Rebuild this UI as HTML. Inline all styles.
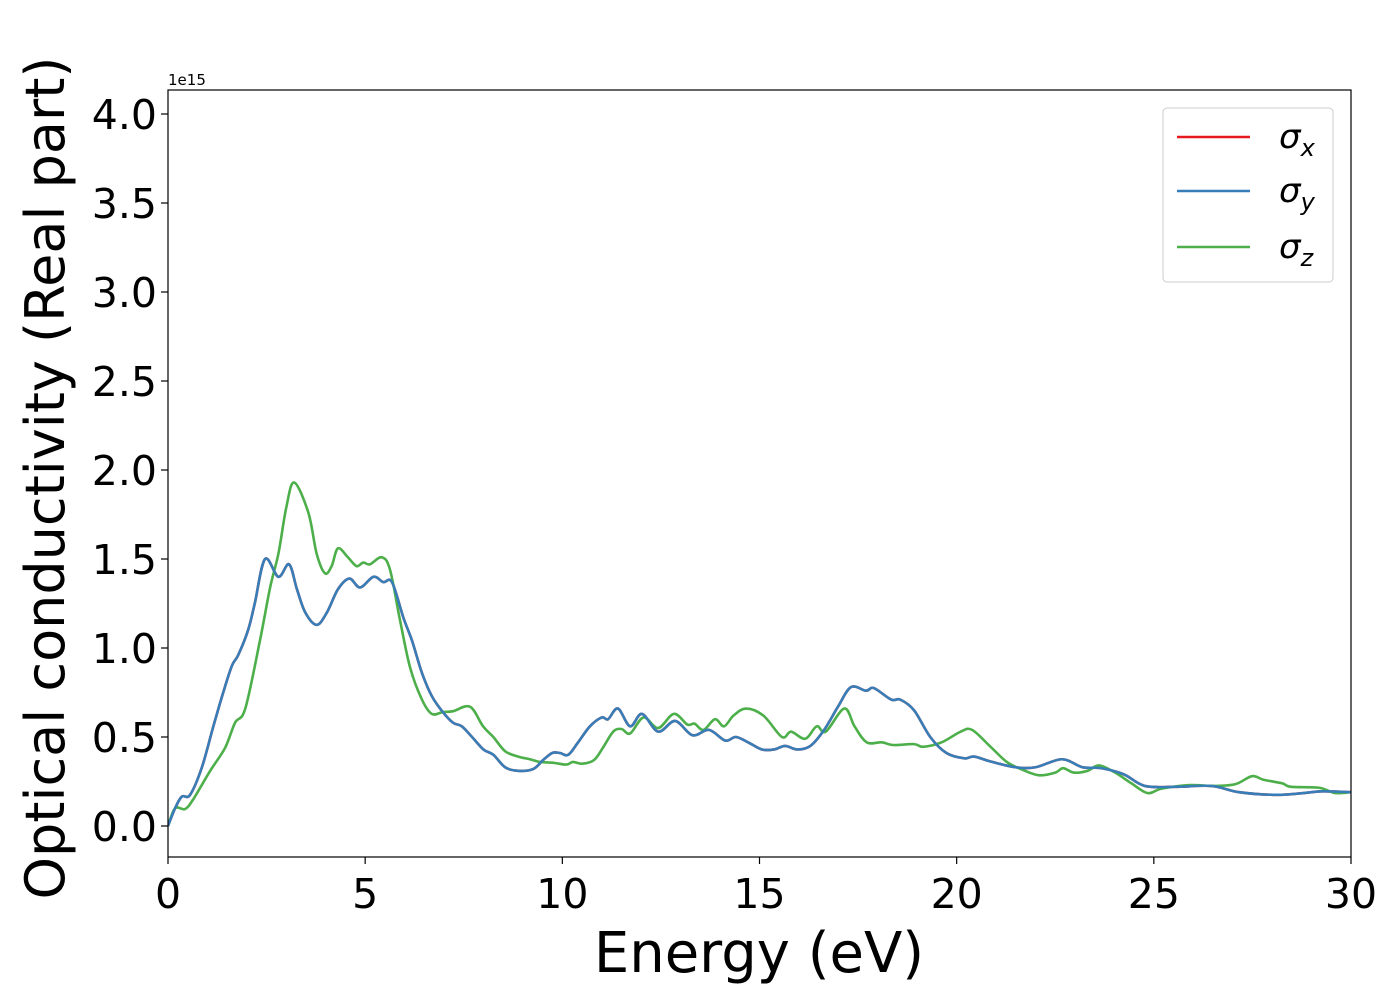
<!DOCTYPE html>
<html><head><meta charset="utf-8"><style>
html,body{margin:0;padding:0;background:#fff;}
svg{display:block;font-family:"DejaVu Sans","Liberation Sans",sans-serif;}
</style></head><body>
<svg id="chart" width="1400" height="1000" viewBox="0 0 1400 1000" xmlns="http://www.w3.org/2000/svg">
<rect width="1400" height="1000" fill="#fff"/>
<g id="plot"></g>
<rect x="168" y="90" width="1183" height="767" fill="none" stroke="#000" stroke-width="1.2"/>
<g id="xticks"></g>
<g id="yticks"></g>
<text x="168" y="85" font-size="15">1e15</text>
<text x="759" y="972" font-size="56" text-anchor="middle">Energy (eV)</text>
<text transform="translate(64,478) rotate(-90)" font-size="54" text-anchor="middle">Optical conductivity (Real part)</text>
<g>
<rect x="1163" y="108" width="170" height="174" rx="4" fill="#fff" stroke="#ccc" stroke-width="1"/>
<g><line x1="1177" y1="137" x2="1250" y2="137" stroke="#e41a1c" stroke-width="2.5"/><text x="1279" y="148" font-size="34" font-style="italic">σ<tspan font-size="24" dy="8">x</tspan></text></g>
<g><line x1="1177" y1="191" x2="1250" y2="191" stroke="#377eb8" stroke-width="2.5"/><text x="1279" y="202" font-size="34" font-style="italic">σ<tspan font-size="24" dy="8">y</tspan></text></g>
<g><line x1="1177" y1="247" x2="1250" y2="247" stroke="#4daf4a" stroke-width="2.5"/><text x="1279" y="258" font-size="34" font-style="italic">σ<tspan font-size="24" dy="8">z</tspan></text></g>
</g>
</svg>
<script>
const xyEnergy=[0,0.18,0.35,0.56,0.86,1.15,1.4,1.62,1.78,2.03,2.2,2.46,2.8,3.07,3.27,3.48,3.77,4.03,4.31,4.6,4.87,5.21,5.46,5.68,5.97,6.19,6.44,6.69,6.97,7.23,7.45,7.71,8.0,8.25,8.55,8.88,9.26,9.51,9.74,9.94,10.15,10.4,10.7,11.0,11.16,11.41,11.72,12.02,12.43,12.86,13.3,13.72,14.13,14.4,14.71,15.06,15.37,15.65,15.95,16.29,16.64,16.99,17.32,17.7,17.9,18.34,18.57,18.92,19.33,19.74,20.2,20.44,20.9,21.5,22.0,22.67,23.19,23.66,24.24,24.77,25.54,26.46,27.16,28.1,28.8,29.27,30];
const xyValues=[0,0.10,0.165,0.175,0.33,0.56,0.75,0.90,0.96,1.10,1.25,1.50,1.40,1.47,1.33,1.20,1.13,1.20,1.33,1.39,1.34,1.40,1.37,1.37,1.17,1.04,0.86,0.73,0.64,0.58,0.56,0.50,0.43,0.40,0.33,0.31,0.32,0.37,0.41,0.41,0.40,0.47,0.56,0.61,0.60,0.66,0.56,0.63,0.53,0.59,0.51,0.54,0.48,0.50,0.47,0.43,0.43,0.45,0.43,0.45,0.54,0.67,0.78,0.76,0.775,0.71,0.71,0.65,0.50,0.41,0.38,0.39,0.36,0.33,0.33,0.375,0.33,0.325,0.29,0.225,0.22,0.225,0.19,0.175,0.185,0.195,0.19];
const zEnergy=[0,0.18,0.43,0.64,1.07,1.45,1.70,1.96,2.33,2.59,2.8,3.0,3.2,3.56,3.77,3.98,4.15,4.31,4.56,4.78,4.95,5.12,5.42,5.63,5.88,6.14,6.44,6.69,6.97,7.23,7.66,7.99,8.25,8.55,8.88,9.18,9.43,9.77,10.1,10.27,10.5,10.8,11.03,11.29,11.5,11.72,12.06,12.43,12.83,13.17,13.35,13.58,13.87,14.1,14.34,14.66,15.1,15.57,15.8,16.16,16.45,16.68,17.15,17.41,17.72,18.1,18.39,18.92,19.15,19.62,20.1,20.39,20.86,21.27,21.68,22.09,22.5,22.7,22.97,23.32,23.61,24.02,24.43,24.84,25.2,25.9,26.55,27.07,27.49,27.78,28.25,28.48,29.19,29.6,30];
const zValues=[0,0.10,0.095,0.15,0.31,0.44,0.58,0.66,1.04,1.34,1.53,1.79,1.93,1.76,1.53,1.42,1.46,1.56,1.51,1.46,1.48,1.47,1.51,1.44,1.16,0.89,0.71,0.63,0.64,0.645,0.67,0.56,0.50,0.42,0.39,0.375,0.36,0.355,0.345,0.36,0.35,0.37,0.44,0.53,0.545,0.52,0.61,0.55,0.63,0.57,0.575,0.54,0.60,0.56,0.62,0.66,0.62,0.50,0.53,0.49,0.56,0.53,0.66,0.56,0.47,0.47,0.455,0.46,0.445,0.47,0.53,0.54,0.445,0.36,0.315,0.285,0.30,0.325,0.30,0.31,0.34,0.30,0.24,0.185,0.21,0.23,0.225,0.235,0.28,0.26,0.24,0.22,0.215,0.185,0.19];
const xTickValues=[0,5,10,15,20,25,30];
const xTickLabels=["0","5","10","15","20","25","30"];
const yTickValues=[0,0.5,1,1.5,2,2.5,3,3.5,4];
const yTickLabels=["0.0","0.5","1.0","1.5","2.0","2.5","3.0","3.5","4.0"];

const NS="http://www.w3.org/2000/svg";
const X0=168,X1=1351,XMIN=0,XMAX=30;
const YZERO=826,YPER=178;
function xs(v){return X0+(v-XMIN)/(XMAX-XMIN)*(X1-X0);}
function ys(v){return YZERO-v*YPER;}
function smoothPath(xa,ya){
  const p=xa.map((x,i)=>[xs(x),ys(ya[i])]);
  let d="M"+p[0][0].toFixed(2)+","+p[0][1].toFixed(2);
  for(let i=0;i<p.length-1;i++){
    const p0=p[Math.max(0,i-1)],p1=p[i],p2=p[i+1],p3=p[Math.min(p.length-1,i+2)];
    const c1=[p1[0]+(p2[0]-p0[0])/6,p1[1]+(p2[1]-p0[1])/6];
    const c2=[p2[0]-(p3[0]-p1[0])/6,p2[1]-(p3[1]-p1[1])/6];
    d+="C"+c1[0].toFixed(2)+","+c1[1].toFixed(2)+" "+c2[0].toFixed(2)+","+c2[1].toFixed(2)+" "+p2[0].toFixed(2)+","+p2[1].toFixed(2);
  }
  return d;
}
const plot=document.getElementById("plot");
const clip=document.createElementNS(NS,"clipPath");clip.setAttribute("id","clipA");
const cr=document.createElementNS(NS,"rect");cr.setAttribute("x",X0);cr.setAttribute("y",90);cr.setAttribute("width",X1-X0);cr.setAttribute("height",767);
clip.appendChild(cr);plot.appendChild(clip);
function addLine(xa,ya,color,name){
  const el=document.createElementNS(NS,"path");
  el.setAttribute("d",smoothPath(xa,ya));
  el.setAttribute("fill","none");el.setAttribute("stroke",color);el.setAttribute("stroke-width","2.6");
  el.setAttribute("stroke-linejoin","round");el.setAttribute("clip-path","url(#clipA)");
  
  
  plot.appendChild(el);
}
addLine(xyEnergy,xyValues,"#e41a1c","series-sigma-x");
addLine(zEnergy,zValues,"#4daf4a","series-sigma-z");
addLine(xyEnergy,xyValues,"#377eb8","series-sigma-y");

const xg=document.getElementById("xticks");
xTickValues.forEach((v,i)=>{
  const t=document.createElementNS(NS,"line");
  t.setAttribute("x1",xs(v));t.setAttribute("x2",xs(v));t.setAttribute("y1",857);t.setAttribute("y2",864);t.setAttribute("stroke","#000");t.setAttribute("stroke-width","1.2");
  
  
  xg.appendChild(t);
  const tx=document.createElementNS(NS,"text");
  tx.setAttribute("x",xs(v));tx.setAttribute("y",908);tx.setAttribute("font-size","41");tx.setAttribute("text-anchor","middle");
  tx.textContent=xTickLabels[i];
  
  
  xg.appendChild(tx);
});
const yg=document.getElementById("yticks");
yTickValues.forEach((v,i)=>{
  const t=document.createElementNS(NS,"line");
  t.setAttribute("x1",161);t.setAttribute("x2",168);t.setAttribute("y1",ys(v));t.setAttribute("y2",ys(v));t.setAttribute("stroke","#000");t.setAttribute("stroke-width","1.2");
  
  
  yg.appendChild(t);
  const tx=document.createElementNS(NS,"text");
  tx.setAttribute("x",157);tx.setAttribute("y",ys(v)+15);tx.setAttribute("font-size","41");tx.setAttribute("text-anchor","end");
  tx.textContent=yTickLabels[i];
  
  
  yg.appendChild(tx);
});
</script>
</body></html>
